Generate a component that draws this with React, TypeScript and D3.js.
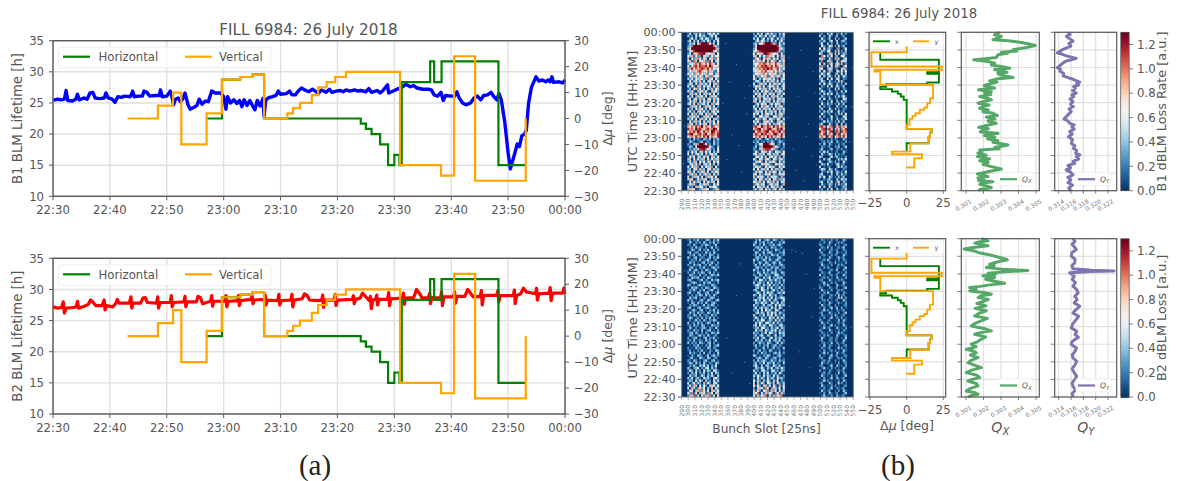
import React from "react";
import * as d3 from "d3";

// ---- Tune shift panel (a): [minutes after 22:30, degrees] ----
const horizontalSteps: [number, number][] = [[27,0],[29.7,15],[32.9,16],[35.1,17],[37.1,0],[54.1,-2],[55,-4],[56,-6],[57.5,-10],[58.9,-18],[60,-14],[60.9,-18],[61.3,14],[66.3,22],[67,14],[68.3,22],[78.3,-18],[83,-18]];
const verticalSteps: [number, number][] = [[13.1,0],[18.45,5],[21.1,10],[22.55,-10],[27,2],[29.7,15],[32.9,16],[35.1,17],[37.1,0],[41.2,2],[42.2,4],[43.4,6],[45.5,9],[46.6,12],[48.1,14],[49.6,16],[51.5,18],[61,-18],[68.2,-22],[70.5,24],[74.2,-24],[83.1,0]];

// ---- Tune shift panel (b), plotted in its own (compressed) time: [minutes, degrees] ----
const xShiftSteps: [number, number][] = [[22.2,0],[27,15],[30.7,16],[33,17],[35.1,0],[51.6,-2],[53.5,-4],[55,-6],[56.4,-10],[57.7,-18],[59,-14],[60.5,14],[61.5,22],[66.4,14],[67.4,22],[74.4,-18],[78.7,-18]];
const yShiftSteps: [number, number][] = [[13.1,0],[13.2,5.2],[18.4,10.5],[20.7,-10],[22.2,2.5],[26.9,15],[30.7,16],[33,17],[35.1,0],[37.4,2],[40.8,4],[42.5,6],[44,9],[46,12],[47.2,14],[49.7,16],[52.5,18],[60.2,-18],[67.7,-22],[68.7,24],[70.6,-24],[78.7,0],[82,0]];

// ---- Lifetimes: [minutes after 22:30, hours] ----
const b1Lifetime: [number, number][] = [[0,25.4],[0.8,25.6],[1.5,25.5],[2,25.6],[2.3,27],[2.6,25.4],[3.4,25.3],[4,25.6],[4.3,26.4],[4.6,25.5],[5.5,25.8],[6,25.6],[6.5,26.6],[7,26.7],[7.4,25.8],[8.2,25.7],[9,25.8],[9.3,26.6],[9.7,25.8],[10.4,25.6],[10.9,25.1],[11.4,26],[12,25.9],[12.6,26.1],[13.6,26],[14,26.9],[14.3,26],[15,26.1],[15.7,26.1],[16,26.9],[16.5,26.7],[17,26.1],[18,26.2],[18.7,26.2],[18.9,27.1],[19.2,26],[20,26.1],[20.6,26.9],[20.9,26],[21.2,24.7],[21.5,25.6],[22,25.8],[22.4,25.2],[22.8,25.6],[23.2,26.6],[23.7,24.8],[24.1,24],[24.8,24.3],[25.3,24.6],[25.7,25.6],[26.2,24.8],[26.8,25.3],[27.3,25.2],[27.9,26.9],[28.5,26.6],[29.5,26.6],[30,26],[30.4,24],[30.7,26],[31.2,25],[31.8,25.5],[32.3,24.9],[32.8,25.4],[33.2,24.4],[33.6,25.5],[34.1,24.6],[34.6,25.4],[35.1,24.5],[35.5,23.9],[35.9,25.4],[36.4,24.5],[36.9,25.7],[37.1,22.8],[37.4,25.5],[38,25.9],[38.6,26],[39.2,26.2],[39.6,26.9],[40,26.4],[41,26.5],[41.6,26.9],[42,26.3],[42.6,26.3],[43.2,27],[43.7,27.4],[44.2,27.1],[45,26.8],[45.6,27.2],[46.2,26.8],[46.7,26.6],[47.2,27.1],[48,26.7],[48.6,27.2],[49,26.7],[49.8,26.9],[50.5,27],[51,26.8],[51.5,27.1],[52.2,26.9],[53,27.1],[53.6,26.9],[54.1,27],[55,26.8],[55.5,27.3],[56,26.7],[57,27],[57.5,26.6],[58,27],[58.8,27.9],[59,26.6],[60,27],[60.7,27.3],[61.5,27.6],[62,28],[62.8,27.6],[63.4,27.8],[64,27.4],[65,27.2],[66,27.2],[66.5,27.1],[67,26.3],[67.6,26.1],[68.2,26.7],[68.6,25.4],[69,26.2],[70,26.1],[70.6,26.1],[71,26.8],[71.4,25.8],[72,25],[72.6,24.7],[73.4,25],[74,25.8],[74.6,26.1],[75.2,25.5],[75.7,26.2],[76.4,26.3],[77,26.7],[77.5,26],[78,25.5],[78.4,26.5],[78.8,25.5],[79.4,22],[80,17],[80.4,14.4],[80.8,15.7],[81.2,17],[81.6,18.4],[82,18],[82.4,19.7],[82.9,20],[83.2,20.6],[83.6,25],[84.1,27.5],[84.9,29.2],[85.4,28.5],[86,28.7],[86.6,28.4],[87.1,28.7],[87.4,28.4],[87.7,29.2],[88,28.3],[89,28.4],[89.6,28.2],[90,28.7]];
const b2Lifetime: [number, number][] = [[0,27.2],[0.8,27],[1.5,27.1],[1.8,28],[2,26.2],[2.3,27],[3.5,27.1],[4.1,27.2],[4.3,28.1],[4.5,27],[5.5,27.3],[6.2,27.6],[6.6,28.3],[7,28],[7.5,27.4],[8.6,27.4],[9,28.3],[9.15,26.7],[9.4,27.4],[10.5,27.2],[11,27.7],[11.3,28.4],[11.6,27.8],[13.4,27.8],[13.7,28.8],[13.85,27],[14.1,27.8],[15.4,27.8],[15.8,28.6],[16.2,28.7],[16.6,27.9],[18.2,27.8],[18.4,28.8],[18.55,27],[18.8,27.9],[20.6,27.9],[20.8,29],[20.95,27.2],[21.2,27.9],[23,28],[23.2,28.9],[23.35,27.2],[23.6,28],[25.2,28],[25.5,28.9],[25.9,28.7],[26.3,27.7],[27.7,28.1],[27.9,29],[28.05,27.3],[28.3,28.1],[30.2,28.1],[30.4,29],[30.55,27.2],[30.8,28.1],[32.4,28.2],[32.6,29],[32.75,27.4],[33,28.2],[34.8,28.4],[35,29.1],[35.15,27.7],[35.4,28.3],[37.1,28.4],[37.3,29.1],[37.45,27.5],[37.7,28.3],[39.5,28.2],[39.7,29.2],[39.85,27.5],[40.1,28.2],[41.8,28.3],[42,29.2],[42.15,27.2],[42.4,28.3],[43.8,28.5],[44.2,29.3],[44.7,29],[45.1,28.3],[47.2,28.2],[47.4,29.1],[47.55,27.1],[47.8,28.3],[49.4,28.3],[49.6,29.2],[49.75,27.4],[50,28.3],[52.6,28.4],[52.8,29],[52.95,27.7],[53.2,28.4],[54,28.6],[54.4,29.4],[54.9,28.9],[55.6,28.2],[55.8,28.9],[55.95,26.9],[56.2,28.3],[56.7,28.4],[56.9,29.1],[57.05,27.5],[57.3,28.4],[58.8,28.4],[59,29.5],[59.15,27.4],[59.4,28.5],[61.4,28.6],[61.6,29.4],[61.75,27.6],[62,28.6],[63.4,28.7],[63.9,30],[64.4,29.4],[64.9,28.6],[66,28.7],[66.2,29.4],[66.35,27.7],[66.6,28.7],[68.1,28.6],[68.3,29.6],[68.45,27.4],[68.7,28.8],[70.4,28.8],[70.6,29.6],[70.75,27.8],[71,28.9],[72.4,28.9],[72.9,30],[73.4,29.4],[73.9,28.8],[75.1,28.9],[75.3,29.8],[75.45,27.5],[75.7,29],[78,29.1],[78.2,29.8],[78.35,28],[78.6,29],[80.9,29],[81.1,29.9],[81.25,27.7],[81.5,29],[82.2,29.3],[82.7,30.2],[83.2,29.6],[84.8,29.3],[85,30.2],[85.15,28.3],[85.4,29.3],[87.2,29.4],[87.4,30.3],[87.55,28.2],[87.8,29.4],[89.6,29.4],[89.8,30.2],[90,29.3]];

// ---- Tunes: [minutes after 22:30, tune] ----
const b1Qx: [number, number][] = [[89.9,.30292],[88.6,.30262],[87.7,.30302],[86.6,.30275],[85.8,.30254],[85.2,.3034],[84.4,.30407],[83.3,.30464],[82.5,.30496],[81.4,.30445],[80.1,.30369],[79.4,.3039],[78.7,.30302],[78.2,.3034],[77.2,.30283],[75.7,.30273],[75,.3021],[74.4,.30144],[73.4,.30226],[72.5,.30264],[71.4,.30245],[70.6,.30302],[69.6,.3035],[68.9,.30262],[68.1,.30292],[67.3,.30335],[66.8,.30281],[65.8,.30292],[64.3,.30369],[63.6,.30283],[62.4,.30235],[61.7,.30278],[61.1,.30254],[59.8,.30203],[58.3,.30264],[57.3,.30172],[56.2,.30245],[55.4,.30206],[54.6,.30242],[53.5,.30178],[52.4,.30226],[51.6,.30245],[50.6,.30197],[49.7,.30169],[48.7,.30232],[47.8,.30196],[46.8,.30178],[45.9,.30227],[44.9,.30197],[44,.30254],[42.7,.30279],[41.8,.30216],[40.8,.30265],[39.6,.30226],[38.3,.30273],[37,.30216],[36,.30172],[35.2,.30228],[34.5,.30196],[33.4,.30182],[32.6,.30283],[31.3,.30203],[30.4,.30265],[29.4,.30223],[28.4,.30283],[27.5,.30254],[26,.3034],[24.5,.30264],[23.8,.3029],[23.1,.30178],[22.2,.30192],[21.3,.30168],[20.2,.30216],[19.4,.30165],[18,.30235],[17,.30178],[16.1,.30227],[15,.30197],[13.7,.30245],[12.3,.30302],[11.2,.30245],[10.3,.30206],[9.5,.30165],[8.7,.30205],[8,.30226],[7.3,.30168],[6.6,.30202],[5.8,.30172],[5.1,.30254],[4.3,.30192],[3.6,.30178],[2.6,.30222],[1.7,.30245],[0.8,.30182],[0,.30172]];
const b1Qy: [number, number][] = [[89.9,.31551],[88.8,.31585],[87.7,.31524],[86.4,.31575],[85,.31632],[83.6,.31565],[82.2,.31598],[80.3,.3147],[78.4,.31378],[77.5,.31462],[76.6,.31524],[75.2,.31686],[73.7,.31524],[72.8,.31478],[71.8,.31443],[69.9,.31378],[69,.31432],[68,.31416],[66.6,.31482],[65.2,.3147],[63.3,.31632],[61.7,.31741],[60.8,.31692],[60,.31724],[59.2,.31642],[58.3,.31672],[57,.31622],[55.4,.31686],[54.4,.31612],[53.5,.31645],[52,.31582],[50.6,.31632],[49.2,.31592],[47.8,.31638],[46.4,.31568],[45,.31605],[43.5,.31562],[42.1,.31524],[40.8,.31486],[39.6,.31552],[38.3,.31578],[37.4,.31652],[36.4,.31612],[35,.31652],[33.6,.31578],[32.2,.31622],[30.7,.31558],[29,.31625],[26.9,.31605],[25.5,.31662],[24.1,.31639],[22.8,.31692],[21.3,.31674],[20.4,.31744],[19.4,.31684],[18,.31724],[16.6,.31632],[15.5,.31662],[14.3,.31551],[13,.31592],[11.8,.31521],[10.4,.31598],[9,.31632],[7.6,.31548],[6.1,.31598],[4.6,.31552],[3.2,.31625],[1.6,.31562],[0,.31598]];
const b2Qx: [number, number][] = [[90,.30188],[88.8,.30226],[88.1,.30172],[87.5,.3015],[86,.30226],[85,.30142],[84.1,.30089],[83.2,.30142],[82.2,.30169],[80.6,.30245],[79.3,.30292],[78,.30336],[76.9,.30283],[75.5,.30235],[74.5,.30262],[73.6,.30216],[72.7,.30302],[71.9,.30454],[71.2,.30321],[70.4,.30226],[69.6,.30268],[68.9,.30197],[67.9,.30264],[66.9,.30212],[66,.30255],[64.7,.30321],[63.6,.30226],[62.9,.30182],[62.2,.30121],[61.2,.30158],[60.3,.30121],[59.4,.30202],[58.4,.30245],[57.4,.30182],[56.5,.30169],[55.5,.30228],[54.6,.30207],[53.2,.30162],[51.8,.30214],[50.4,.30152],[49,.30216],[47.6,.30175],[46.1,.3015],[44.7,.30222],[43.3,.30187],[41.9,.30152],[40.4,.3013],[39,.30202],[37.6,.30245],[36.6,.30182],[35.7,.30149],[34.2,.30212],[32.8,.30187],[31.4,.30165],[30,.3013],[28.6,.30158],[27.1,.30101],[26.2,.30142],[25.2,.30159],[23.8,.30125],[22.4,.30169],[21,.30132],[19.5,.30111],[18,.30152],[16.7,.30188],[15.3,.30132],[13.9,.30101],[12.4,.30162],[11,.30178],[10,.30136],[9.1,.30111],[7.7,.30158],[6.3,.30169],[4.8,.30122],[3.4,.30102],[2.4,.30152],[1.5,.30169],[0.7,.30126],[0,.30111]];
const b2Qy: [number, number][] = [[90,.31632],[88.4,.31664],[86.8,.31616],[85.4,.31652],[83.9,.31686],[82,.31612],[80.1,.31605],[78.2,.31668],[76.3,.31659],[74.6,.31615],[72.9,.31632],[72.1,.3193],[71.7,.32297],[71.3,.3193],[70.6,.31578],[68.7,.31652],[66.8,.31622],[65,.31672],[63,.31632],[61,.31692],[59.2,.31714],[57.3,.31662],[55.4,.31699],[53.5,.31652],[51.6,.31741],[49.7,.31682],[47.8,.31632],[45.9,.31722],[44,.31684],[41.7,.31628],[39.3,.31605],[37.4,.31692],[35.5,.31666],[34,.31718],[32.6,.31659],[31.2,.31612],[29.8,.31605],[27.9,.31688],[26,.31666],[24.1,.31622],[22.2,.31632],[20.3,.31692],[18.4,.31666],[16,.31618],[13.7,.31652],[11.8,.31692],[9.9,.31659],[8,.31618],[6.1,.31632],[4,.31672],[2,.31618],[0,.31632]];

// ---- Heat maps. Each row runs from 00:00 (top) to 22:30; groups are the six filled bunch trains.
// Levels 0-9 span 0-1.3. The bright zones and overall brightness follow the picture,
// but single cells are hand estimates: the speckle is too fine to read one by one.
const trainStartSlots = [298.5, 398, 498, 510, 522, 531];
const trainEndSlots = [346.5, 446, 507.5, 518.5, 529, 540];
const b1Rows = [
"1402315120342413 2041302514120314 120 314 021 302","3120415231024150 1304215031420213 302 041 130 120","0241302415312043 3150240315204132 041 130 302 013",
"2503140231420315 0241531204130251 213 025 140 231","1324057999851304 2314579998620413 140 302 031 102","2379999999999732 1599999999998421 052 146 205 130",
"3599999999999973 2499999999999642 405 231 072 014","1468999999999642 3578999999998312 132 540 316 203","2406578896543605 4156389876453051 520 163 405 132",
"5361427043615244 3605142736405163 074 315 260 451","3052674153046275 1642057361524036 362 051 673 024","4617305462715034 5263740615370425 170 362 041 653",
"2543768657486315 3547687576485326 503 174 256 302","4157868778697546 2476879768587463 271 405 632 074","3684767876857435 5367687978568425 640 253 170 362",
"2463578645763214 3465768564752631 305 162 043 515","4352647536245136 2546375246351624 142 530 261 403","1536425314627354 4162536174625315 503 241 305 142",
"3241536427135042 5203146352417035 230 405 143 021","0413526140352615 1342051426315042 142 031 205 310","2530416325140362 4013625041362514 305 142 031 203",
"4152036142530416 2536140253614025 021 304 152 130","1304625130426153 0415263140526314 310 120 403 021","5241063524106352 3160425316042531 142 031 120 304",
"0362514036251403 1524036152403615 203 415 031 120","4150263415026341 5036241503624150 031 120 304 241","2503416250341625 2416035241603524 304 031 120 043",
"1426305142630514 6305142630514263 120 204 031 312","3514062351406235 0251436025143602 041 312 205 130","0263514026351402 4130526413052641 302 120 041 203",
"5130426513042651 2504163250416325 130 041 302 021","2416035241603524 1362504136250413 203 315 014 120","4052613405261340 5240316524031652 041 120 203 304",
"1635240163524016 3105426310542631 302 014 120 043","3241506324150632 0462153046215304 120 203 031 214","0513624051362405 4251036425103642 014 312 204 130",
"2640315264031526 1503264150326415 230 041 130 302","6574867957648756 7865976875968576 786 567 857 675","8675978657867985 6789576897568795 578 786 675 758",
"5768697586759867 9578678957867957 867 578 786 867","7896578679568768 6875978675897586 758 675 968 576","4675867486957648 5768475968574685 675 857 467 684",
"1203121032130213 0213102312031201 120 102 210 031","0321012301210312 2130120213201321 012 213 031 102","2103379984120312 0214599975301203 203 031 102 120",
"1320599999842103 1302699999743102 021 120 213 013","0213258897531204 2106378885321021 130 013 021 201","3152403615240315 1420536142053614 214 301 120 031",
"4061352406135240 3516240351624035 031 142 302 120","1524063152406315 0352416035241603 320 014 231 102","3605142360514236 4205316420531642 103 240 013 314",
"2416305241630524 1364205136420513 410 132 302 041","0352416035241603 5210463521046352 032 401 143 120","5143620514362051 2436105243610524 301 120 024 312",
"2304516230451623 4051362405136240 143 042 310 021","4615032461503246 1625304162530416 021 314 132 204","1352604135260413 3406215340621534 240 103 041 312",
"5026341502634150 6153420615342061 314 042 203 130","3640152364015236 2504613250461325 102 231 041 423","0415263041526304 4326150432615043 240 314 125 031",
"2536104253610425 1652340165234016 031 152 304 214","4120635412063541 5043261504326150 403 041 210 132","3654012365401236 2316405231640523 120 305 041 214"];
const b2Rows = [
"1202130102310213 0213012310321021 021 102 120 031","0310212031021302 1302130213010213 102 031 012 210","2103100213210130 3102031021302310 210 120 301 012",
"0120312102013021 0231302103120120 021 302 012 130","1032013021301202 2013021301032102 301 012 120 021","2301220103120310 0320130232010213 120 031 031 102",
"0213013021032102 1203021103213012 012 102 210 031","3102301210130213 0231203120102310 201 031 013 120","1021203012310120 3120132031023102 012 310 102 021",
"0312010230213102 2013103201320310 120 021 301 102","2103123012031021 1302031230210231 031 102 012 210","0230102130102312 0231202103123012 102 210 021 013",
"1302310203210130 3120130321030210 210 012 130 021","2013021320130201 1032031203231032 021 130 012 102","0321103012013213 2103203120143102 301 012 120 031",
"1032230120321010 0321031240213230 012 201 031 102","2310012302103123 1204312032141203 120 031 102 210","0123201031230102 3023120413021302 013 102 210 031",
"3201023120103210 1342031250312031 102 310 031 120","1032310203210321 0231420314021402 210 021 120 013","0213102130123102 2310531202412031 031 102 012 210",
"2301032012301023 0142031423102314 102 310 031 021","1020213203120310 3204132052130120 021 012 203 120","0312301021023201 1023240314031243 120 021 013 302",
"3120102310321023 2413052140231014 012 201 120 031","1032031203102310 0321423105214032 201 031 012 102","0213210130213201 3120140232051423 031 120 201 012",
"2301023012310120 1402313204130520 102 013 130 201","1023102301021302 2130405231043102 013 201 021 120","0312031210320213 0241320514230321 120 031 102 013",
"2103203012103120 3102140324051203 021 102 310 120","1320120302130201 1420312042305132 102 013 021 201","0201312031021320 2031450132041302 210 120 103 031",
"3012031201320103 0314203521403120 031 201 012 120","1203120320103212 2405132043120341 102 013 201 031","0310201231021031 1230451203124032 013 120 031 102",
"2103120301230102 0412304213250312 210 031 102 021","1230310202103213 3120215043120423 021 102 013 210","0321023120310120 1302410320140213 102 210 031 012",
"2012301023021301 2140231024031320 031 012 120 103","1203012103120130 0321302140231402 120 021 210 031","3021203210230201 2013120321014031 012 103 021 120",
"0102130102130123 1302021301230210 103 021 102 012","2010312010320210 0210130201302103 021 120 013 201","1201021301021032 2013021032010201 102 012 201 031",
"0312102030120103 1020312010231302 013 201 031 120","1021032101302312 3201021320102310 201 013 120 012","0230103210320120 0123103201230201 120 031 012 201",
"2103201023102301 2031232013120312 012 120 201 031","1320312031021032 1302140321402103 031 201 102 012","0213103241302140 2410302310421301 120 013 031 102",
"3102340213403120 0321420314023142 013 102 201 031","1420312041320431 3120341203412032 201 021 012 120","2031402130214032 1402031402130420 012 120 103 021",
"0412301420314103 3142051320413102 031 102 120 013","3140231042310342 2051320413204231 102 013 031 120","1320514203120413 4132061420315021 013 201 102 031",
"4025132061420351 3061420531604213 120 031 013 201","2516304152063415 5142063140520614 031 102 201 012","4063175240316052 2063417502631405 102 013 021 120",
"1540362751406325 6142053716240513 031 120 102 031","5271406351724063 3570416253074162 102 031 120 013","2637150426371504 4162537041625370 013 102 031 120"];
// Isolated lit cells between the trains: [slot, minutes after 22:30]
const b1Strays: [number, number][] = [[352,50],[358,18],[366,32],[372,72],[380,11],[388,44],[392,60],[452,76],[458,24],[466,54],[474,6],[481,38],[488,68],[493,15],[512,4],[520,62],[294,37],[544,28],[548,70],[356,84],[362,62],[376,26],[384,53],[396,78],[450,42],[462,12],[470,80],[478,31],[486,20],[491,56],[292,16],[296,66],[546,48]];
const b2Strays: [number, number][] = [[358,34],[372,58],[384,20],[392,8],[456,84],[462,83],[472,82],[478,70],[486,46],[490,62],[468,26],[546,40],[294,72],[452,52],[366,14],[378,76],[483,17]];

// ---- Axis labels ----
const timeTickMinutes = [0,10,20,30,40,50,60,70,80,90];
const timeTickLabels = ["22:30","22:40","22:50","23:00","23:10","23:20","23:30","23:40","23:50","00:00"];
const lifetimeTicks = [10,15,20,25,30,35];
const shiftTicks = [-30,-20,-10,0,10,20,30];
const slotTicks = d3.range(290, 551, 10);
const shiftPanelTicks = [-25,0,25];
const qxTicks = [0.301,0.302,0.303,0.304,0.305];
const qyTicks = [0.314,0.316,0.318,0.320,0.322];
const colorbarTicks = [0,0.2,0.4,0.6,0.8,1,1.2];

const TXT = "#555555", SPINE = "#5a5a5a", GRID = "#e0e0e0", FONT = "'DejaVu Sans', sans-serif";
const GREEN = "#008000", ORANGE = "#ffa500";
const color = (v: number) => d3.interpolateRdBu(1 - Math.min(1, Math.max(0, v / 1.3)));

const minus = (n: number) => String(n).replace("-", "\u2212");

function LifetimePanel({ top, bottom, series, stroke, width, label }: any) {
  const x = d3.scaleLinear().domain([0, 90]).range([53, 565]);
  const yL = d3.scaleLinear().domain([10, 35]).range([bottom, top]);
  const yR = d3.scaleLinear().domain([-30, 30]).range([bottom, top]);
  const lineL = d3.line<[number, number]>().x(d => x(d[0])).y(d => yL(d[1]));
  const step = d3.line<[number, number]>().x(d => x(d[0])).y(d => yR(d[1])).curve(d3.curveStepAfter);
  const legendY = top + 16;
  return (
    <g fontFamily={FONT} fill={TXT}>
      {timeTickMinutes.map(m => <line key={m} x1={x(m)} x2={x(m)} y1={top} y2={bottom} stroke={GRID} strokeWidth={1.4} />)}
      {lifetimeTicks.map(v => <line key={v} x1={53} x2={565} y1={yL(v)} y2={yL(v)} stroke={GRID} strokeWidth={1.4} />)}
      <path d={lineL(series) ?? ""} fill="none" stroke={stroke} strokeWidth={width} strokeLinejoin="round" />
      <path d={step(horizontalSteps) ?? ""} fill="none" stroke={GREEN} strokeWidth={2.2} />
      <path d={step(verticalSteps) ?? ""} fill="none" stroke={ORANGE} strokeWidth={2.2} />
      <rect x={53} y={top} width={512} height={bottom - top} fill="none" stroke={SPINE} strokeWidth={1.4} />
      <rect x={58.5} y={legendY - 9.5} width={212.5} height={20.5} rx={2} fill="#fff" fillOpacity={0.8} stroke="#eee" />
      <line x1={63} x2={90} y1={legendY} y2={legendY} stroke={GREEN} strokeWidth={2.2} />
      <text x={98.5} y={legendY + 4.2} fontSize={11.7}>Horizontal</text>
      <line x1={185} x2={212} y1={legendY} y2={legendY} stroke={ORANGE} strokeWidth={2.2} />
      <text x={219} y={legendY + 4.2} fontSize={11.7}>Vertical</text>
      {timeTickMinutes.map((m, i) => (
        <g key={m}>
          <line x1={x(m)} x2={x(m)} y1={bottom} y2={bottom + 4} stroke={SPINE} />
          <text x={x(m)} y={bottom + 17.5} fontSize={11.7} textAnchor="middle">{timeTickLabels[i]}</text>
        </g>
      ))}
      {lifetimeTicks.map(v => (
        <g key={v}>
          <line x1={49} x2={53} y1={yL(v)} y2={yL(v)} stroke={SPINE} />
          <text x={44} y={yL(v) + 4.2} fontSize={11.7} textAnchor="end">{v}</text>
        </g>
      ))}
      {shiftTicks.map(v => (
        <g key={v}>
          <line x1={565} x2={569} y1={yR(v)} y2={yR(v)} stroke={SPINE} />
          <text x={574} y={yR(v) + 4.2} fontSize={11.7}>{minus(v)}</text>
        </g>
      ))}
      <text transform={`translate(21.5,${(top + bottom) / 2}) rotate(-90)`} fontSize={13.3} textAnchor="middle">{label}</text>
      <text transform={`translate(612,${(top + bottom) / 2}) rotate(-90)`} fontSize={12.6} textAnchor="middle">Δ<tspan fontStyle="italic">μ</tspan> [deg]</text>
    </g>
  );
}

const HM_L = 681.7, HM_R = 853.3;

function Heatmap({ top, bottom, rows, strays, showSlotLabel }: any) {
  const x = d3.scaleLinear().domain([290, 550]).range([HM_L, HM_R]);
  const y = d3.scaleLinear().domain([90, 0]).range([top, bottom]);
  const rowH = (bottom - top) / rows.length;
  const cells: React.ReactNode[] = [];
  rows.forEach((row: string, r: number) => {
    row.split(" ").forEach((group, g) => {
      const w = (x(trainEndSlots[g]) - x(trainStartSlots[g])) / group.length;
      group.split("").forEach((ch, c) => {
        cells.push(<rect key={`${r}-${g}-${c}`} x={x(trainStartSlots[g]) + c * w} y={top + r * rowH} width={w + 0.2} height={rowH + 0.2} fill={color((+ch / 9) * 1.3)} />);
      });
    });
  });
  return (
    <g fontFamily={FONT} fill={TXT}>
      <rect x={HM_L} y={top} width={HM_R - HM_L} height={bottom - top} fill={color(0)} />
      <g>{cells}</g>
      {strays.map((s: [number, number], i: number) => <rect key={i} x={x(s[0])} y={y(s[1])} width={1.2} height={1.2} fill="#4a83b5" />)}
      <rect x={HM_L} y={top} width={HM_R - HM_L} height={bottom - top} fill="none" stroke="#777" strokeWidth={0.8} />
      {timeTickMinutes.map((m, i) => (
        <g key={m}>
          <line x1={HM_L - 4} x2={HM_L} y1={y(m)} y2={y(m)} stroke={SPINE} />
          <text x={HM_L - 6} y={y(m) + 4} fontSize={11.2} textAnchor="end">{timeTickLabels[i]}</text>
        </g>
      ))}
      {slotTicks.map(s => (
        <g key={s}>
          <line x1={x(s)} x2={x(s)} y1={bottom} y2={bottom + 3} stroke="#888" strokeWidth={0.7} />
          <text transform={`translate(${x(s) + 2},${bottom + 8}) rotate(-90)`} fontSize={6} textAnchor="end" fill="#777">{s}</text>
        </g>
      ))}
      <text transform={`translate(637,${(top + bottom) / 2}) rotate(-90)`} fontSize={12.9} textAnchor="middle">UTC Time [HH:MM]</text>
      {showSlotLabel && <text x={766.5} y={bottom + 36} fontSize={12.2} textAnchor="middle">Bunch Slot [25ns]</text>}
    </g>
  );
}

function SidePanel({ left, right, top, bottom, domain, range, ticks, tickFormat, children }: any) {
  const x = d3.scaleLinear().domain(domain).range(range);
  const y = d3.scaleLinear().domain([90, 0]).range([top, bottom]);
  return (
    <g fontFamily={FONT} fill={TXT}>
      {timeTickMinutes.map(m => <line key={m} x1={left} x2={right} y1={y(m)} y2={y(m)} stroke={GRID} strokeWidth={1.2} />)}
      {ticks.map((t: number) => <line key={t} x1={x(t)} x2={x(t)} y1={top} y2={bottom} stroke={GRID} strokeWidth={1.2} />)}
      {children(x, y)}
      <rect x={left} y={top} width={right - left} height={bottom - top} fill="none" stroke={SPINE} strokeWidth={1.2} />
      {timeTickMinutes.map(m => <line key={m} x1={left - 4} x2={left} y1={y(m)} y2={y(m)} stroke={SPINE} strokeWidth={0.8} />)}
      {ticks.map((t: number) => <line key={t} x1={x(t)} x2={x(t)} y1={bottom} y2={bottom + 3} stroke={SPINE} strokeWidth={0.8} />)}
      {tickFormat(x, bottom)}
    </g>
  );
}

function ShiftPanel({ top, bottom, showLabel }: any) {
  return (
    <SidePanel left={869} right={945.7} top={top} bottom={bottom} domain={[-25, 25]} range={[870, 943.3]} ticks={shiftPanelTicks}
      tickFormat={(x: any, b: number) => <>
        {shiftPanelTicks.map(t => <text key={t} x={x(t)} y={b + 16.5} fontSize={11.7} textAnchor="middle">{minus(t)}</text>)}
        {showLabel && <text x={907} y={b + 33} fontSize={12.5} textAnchor="middle">Δ<tspan fontStyle="italic">μ</tspan> [deg]</text>}
      </>}>
      {(x: any, y: any) => {
        const ln = d3.line<[number, number]>().x(d => x(d[1])).y(d => y(d[0])).curve(d3.curveStepBefore);
        const ly = top + 9;
        return <>
          <rect x={870.5} y={top + 2.5} width={73} height={12.5} rx={1.5} fill="#fff" fillOpacity={0.8} stroke="#eee" strokeWidth={0.7} />
          <path d={ln(xShiftSteps) ?? ""} fill="none" stroke={GREEN} strokeWidth={1.9} />
          <path d={ln(yShiftSteps) ?? ""} fill="none" stroke={ORANGE} strokeWidth={1.9} />
          <line x1={873} x2={890} y1={ly} y2={ly} stroke={GREEN} strokeWidth={1.9} />
          <text x={895} y={ly + 2.4} fontSize={6.5}>x</text>
          <line x1={913} x2={929} y1={ly} y2={ly} stroke={ORANGE} strokeWidth={1.9} />
          <text x={934.5} y={ly + 2.4} fontSize={6.5}>y</text>
        </>;
      }}
    </SidePanel>
  );
}

function TunePanel({ left, right, top, bottom, domain, range, ticks, data, stroke, sub, showLabel, legendX }: any) {
  return (
    <SidePanel left={left} right={right} top={top} bottom={bottom} domain={domain} range={range} ticks={ticks}
      tickFormat={(x: any, b: number) => <>
        {ticks.map((t: number) => <text key={t} transform={`translate(${x(t) + 6},${b + 12}) rotate(-30)`} fontSize={6} textAnchor="end" fill="#777">{t.toFixed(3)}</text>)}
        {showLabel && <text x={(left + right) / 2} y={b + 35} fontSize={14} textAnchor="middle" fontStyle="italic">Q<tspan fontSize={10} dy={3}>{sub}</tspan></text>}
      </>}>
      {(x: any, y: any) => {
        const ln = d3.line<[number, number]>().x(d => x(d[1])).y(d => y(d[0]));
        const ly = bottom - 11.5;
        return <>
          <path d={ln(data) ?? ""} fill="none" stroke={stroke} strokeWidth={3} strokeLinejoin="round" />
          <rect x={legendX - 2} y={ly - 7} width={35} height={13.5} rx={1.5} fill="#fff" fillOpacity={0.8} stroke="#eee" strokeWidth={0.7} />
          <line x1={legendX} x2={legendX + 17} y1={ly} y2={ly} stroke={stroke} strokeWidth={2.2} />
          <text x={legendX + 22} y={ly + 2.6} fontSize={7.5} fontStyle="italic">Q<tspan fontSize={5.5} dy={1.5}>{sub}</tspan></text>
        </>;
      }}
    </SidePanel>
  );
}

function Colorbar({ top, bottom, label }: any) {
  const y = d3.scaleLinear().domain([0, 1.3]).range([bottom, top]);
  const levels = d3.range(0, 1.3, 0.01);
  return (
    <g fontFamily={FONT} fill={TXT}>
      <g shapeRendering="crispEdges">
        {levels.map(v => <rect key={v} x={1120.7} width={8.5} y={y(v + 0.01)} height={y(v) - y(v + 0.01) + 0.5} fill={color(v)} />)}
      </g>
      <rect x={1120.7} y={top} width={8.5} height={bottom - top} fill="none" stroke={SPINE} strokeWidth={0.8} />
      {colorbarTicks.map(t => (
        <g key={t}>
          <line x1={1129.2} x2={1133} y1={y(t)} y2={y(t)} stroke={SPINE} strokeWidth={0.8} />
          <text x={1137} y={y(t) + 4.2} fontSize={11.7}>{t.toFixed(1)}</text>
        </g>
      ))}
      <text transform={`translate(1166,${(top + bottom) / 2}) rotate(-90)`} fontSize={12.8} textAnchor="middle">{label}</text>
    </g>
  );
}

export default function App() {
  const T1 = 32.3, B1 = 190.7, T2 = 238.7, B2 = 397;
  const qx = { left: 961.3, right: 1039.3, domain: [0.301, 0.305], range: [966, 1036], ticks: qxTicks, stroke: "#55a868", sub: "X", legendX: 1000 };
  const qy = { left: 1054.7, right: 1116.7, domain: [0.314, 0.322], range: [1058.7, 1108], ticks: qyTicks, stroke: "#8172b2", sub: "Y", legendX: 1078 };
  return (
    <svg width={1177} height={481} viewBox="0 0 1177 481" style={{ position: "absolute", left: 0, top: 0, background: "#fff" }}>
      <text x={308.5} y={35} fontFamily={FONT} fontSize={15.2} fill={TXT} textAnchor="middle">FILL 6984: 26 July 2018</text>
      <LifetimePanel top={40.7} bottom={196.3} series={b1Lifetime} stroke="#0000ff" width={3.4} label="B1 BLM Lifetime [h]" />
      <LifetimePanel top={258.3} bottom={414} series={b2Lifetime} stroke="#ff0000" width={3.2} label="B2 BLM Lifetime [h]" />
      <text x={315} y={475} fontFamily="'Liberation Serif', serif" fontSize={29} fill="#222" textAnchor="middle">(a)</text>

      <text x={899} y={18} fontFamily={FONT} fontSize={13.3} fill={TXT} textAnchor="middle">FILL 6984: 26 July 2018</text>
      <Heatmap top={T1} bottom={B1} rows={b1Rows} strays={b1Strays} showSlotLabel={false} />
      <Heatmap top={T2} bottom={B2} rows={b2Rows} strays={b2Strays} showSlotLabel={true} />
      <ShiftPanel top={T1} bottom={B1} showLabel={false} />
      <ShiftPanel top={T2} bottom={B2} showLabel={true} />
      <TunePanel {...qx} top={T1} bottom={B1} data={b1Qx} showLabel={false} />
      <TunePanel {...qx} top={T2} bottom={B2} data={b2Qx} showLabel={true} />
      <TunePanel {...qy} top={T1} bottom={B1} data={b1Qy} showLabel={false} />
      <TunePanel {...qy} top={T2} bottom={B2} data={b2Qy} showLabel={true} />
      <Colorbar top={T1} bottom={B1} label="B1 dBLM Loss Rate [a.u.]" />
      <Colorbar top={T2} bottom={B2} label="B2 dBLM Loss [a.u.]" />
      <text x={898} y={475} fontFamily="'Liberation Serif', serif" fontSize={29} fill="#222" textAnchor="middle">(b)</text>
    </svg>
  );
}
